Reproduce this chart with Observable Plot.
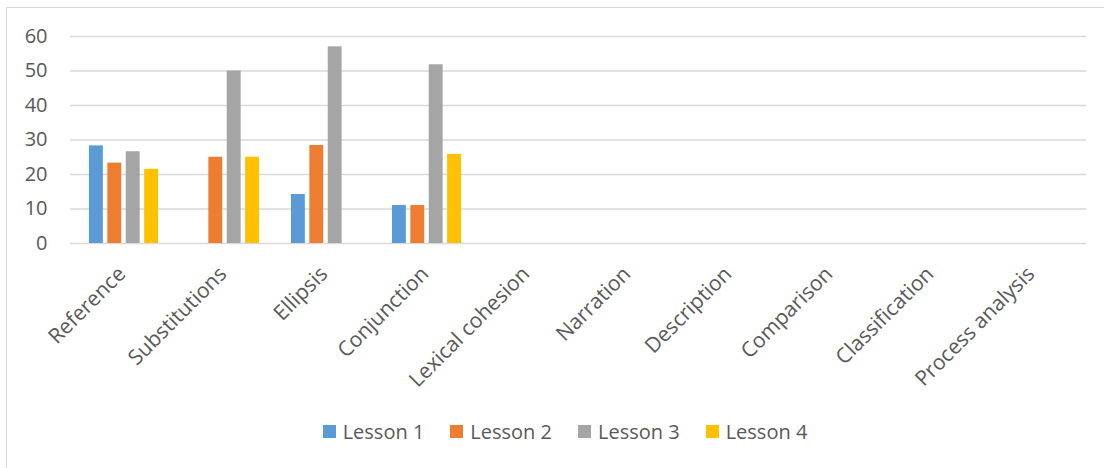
<!DOCTYPE html>
<html>
<head>
<meta charset="utf-8">
<script src="https://cdn.jsdelivr.net/npm/d3@7"></script>
<script src="https://cdn.jsdelivr.net/npm/@observablehq/plot@0.6"></script>
<style>
  html, body { margin: 0; padding: 0; background: #fff; }
  #wrap { position: relative; width: 1104px; height: 468px; overflow: hidden; font-family: "Open Sans", sans-serif; }
  #frame { position: absolute; left: 6px; top: 7px; width: 1200px; height: 600px; border-left: 1px solid #d9d9d9; border-top: 1px solid #d9d9d9; box-sizing: border-box; }
  #chart { position: absolute; left: 0; top: 0; }
  #legend { position: absolute; left: 0; top: 418px; width: 1130px; display: flex; justify-content: center; align-items: center; color: #595959; font-size: 20px; }
  .item { display: flex; align-items: center; margin: 0 13px; }
  .sw { width: 13px; height: 13px; margin-right: 7px; }
</style>
</head>
<body>
<div id="wrap">
  <div id="frame"></div>
  <div id="chart"></div>
  <div id="legend"></div>
</div>
<script>
const categories = ["Reference", "Substitutions", "Ellipsis", "Conjunction", "Lexical cohesion", "Narration", "Description", "Comparison", "Classification", "Process analysis"];
const lessons = ["Lesson 1", "Lesson 2", "Lesson 3", "Lesson 4"];
const lesson1 = [28.3, null, 14.2, 11.0, null, null, null, null, null, null];
const lesson2 = [23.3, 25.0, 28.4, 11.0, null, null, null, null, null, null];
const lesson3 = [26.6, 50.0, 57.0, 51.8, null, null, null, null, null, null];
const lesson4 = [21.5, 25.0, null, 25.8, null, null, null, null, null, null];
const yTicks = [0, 10, 20, 30, 40, 50, 60];
const colors = ["#5B9BD5", "#ED7D31", "#A5A5A5", "#FFC000"];

const series = [lesson1, lesson2, lesson3, lesson4];
const data = [];
categories.forEach((c, i) => {
  lessons.forEach((l, j) => {
    const v = series[j][i];
    if (v != null) data.push({category: c, lesson: l, value: v});
  });
});

const barW = 14.5, step = 18.4, bandW = (1086 - 70) / categories.length;
const inset = (bandW - barW) / 2;

const chart = Plot.plot({
  width: 1104,
  height: 400,
  marginLeft: 70,
  marginRight: 18,
  marginTop: 36,
  marginBottom: 157,
  style: { fontFamily: "Open Sans", fontSize: "20px", color: "#595959", background: "transparent" },
  x: { domain: categories, padding: 0, label: null },
  y: { domain: [0, 60], label: null },
  color: { domain: lessons, range: colors },
  marks: [
    Plot.gridY(yTicks, { stroke: "#d9d9d9", strokeOpacity: 1, strokeWidth: 1.5 }),
    ...lessons.map((l, j) => Plot.barY(data.filter(d => d.lesson === l), {
      x: "category", y: "value", fill: "lesson",
      insetLeft: inset, insetRight: inset, dx: (j - 1.5) * step
    })),
    Plot.axisY(yTicks, { tickSize: 0, tickPadding: 23, label: null }),
    Plot.axisX({ tickRotate: -45, tickSize: 0, tickPadding: 12, label: null, dx: -2, dy: 15, fontSize: 21 })
  ]
});
document.getElementById("chart").appendChild(chart);

const legend = d3.select("#legend");
lessons.forEach((l, i) => {
  const it = legend.append("div").attr("class", "item");
  it.append("div").attr("class", "sw").style("background", colors[i]);
  it.append("span").text(l);
});
</script>
</body>
</html>
